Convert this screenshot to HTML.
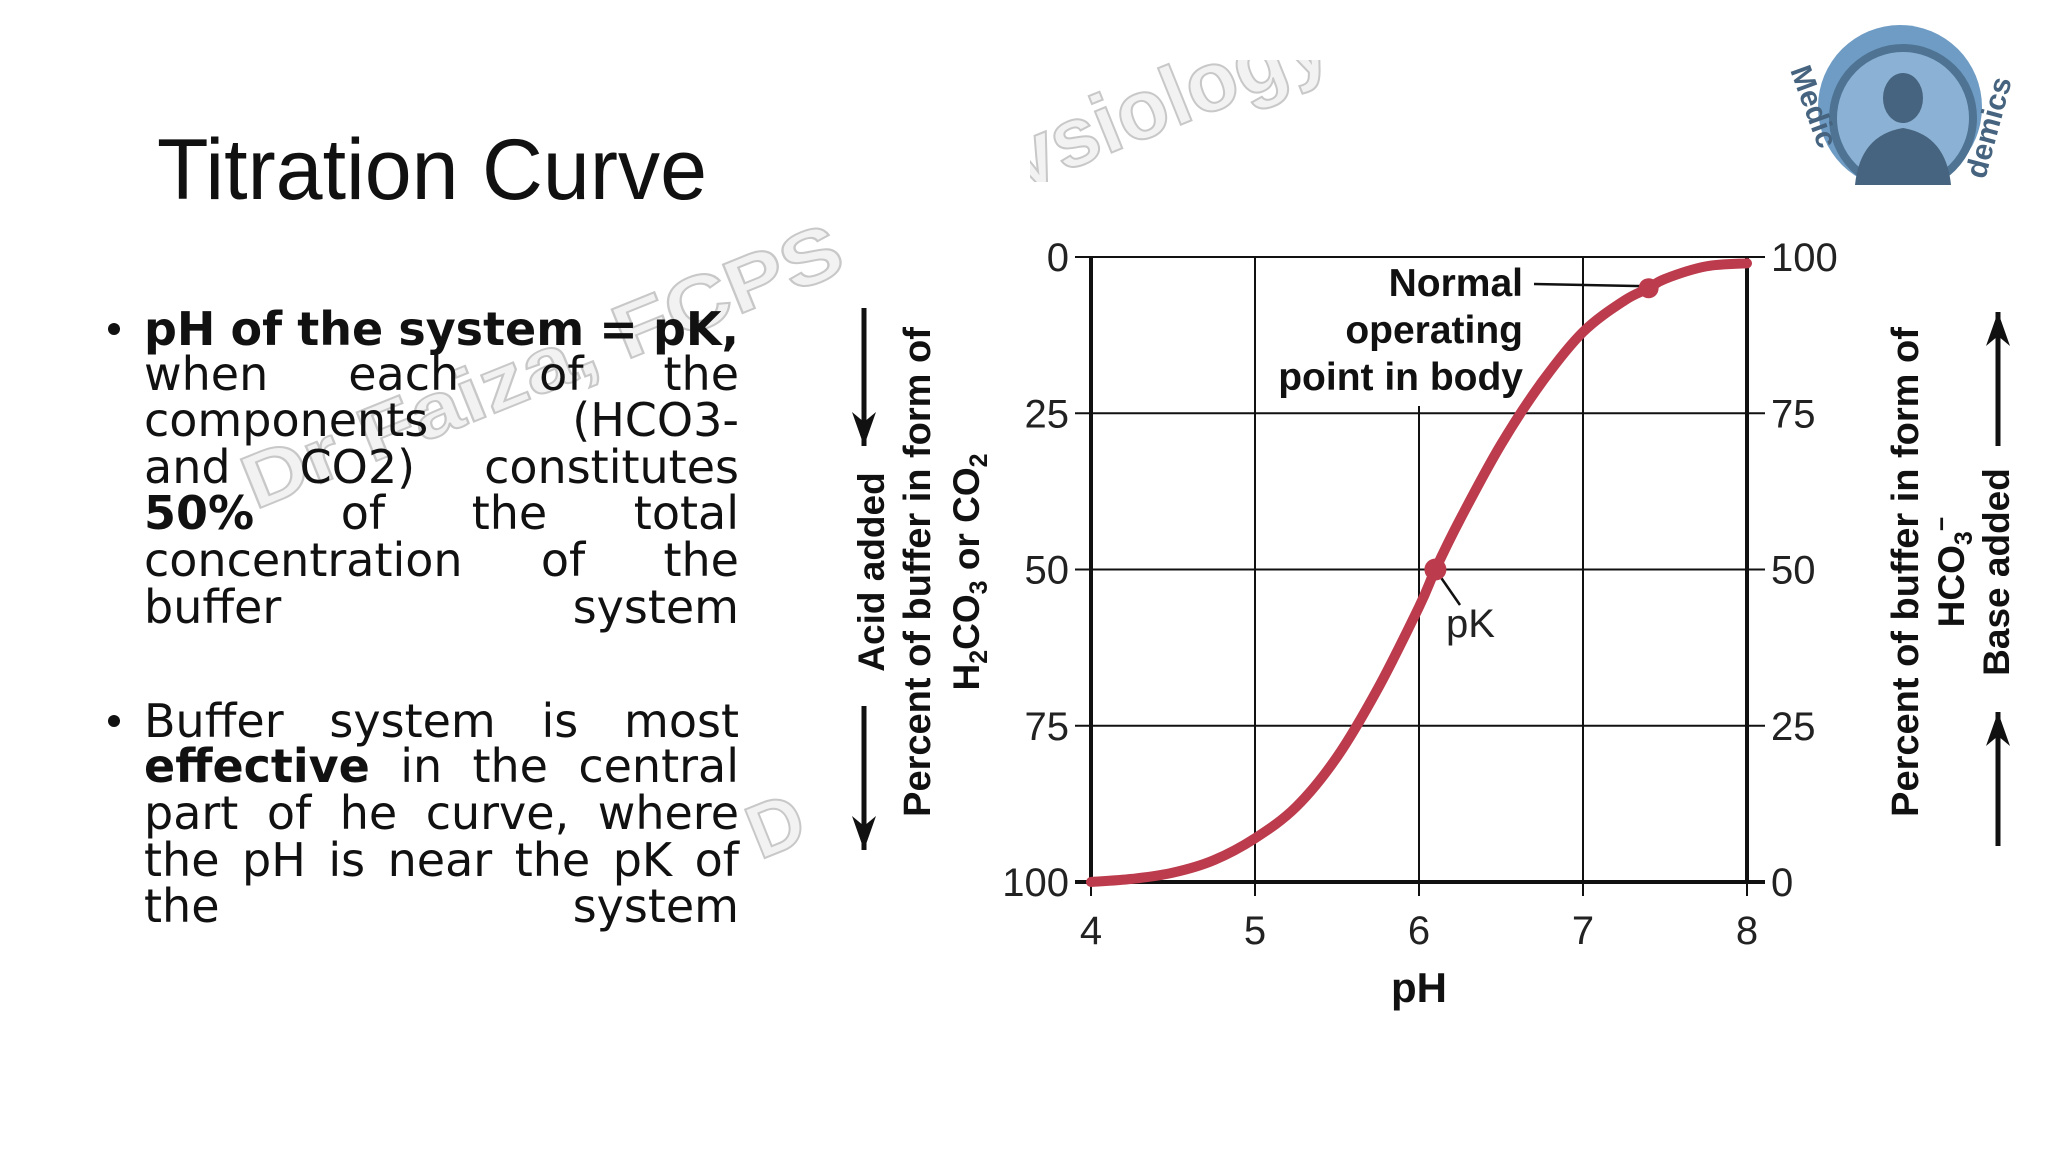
<!DOCTYPE html>
<html><head><meta charset="utf-8"><style>
html,body{margin:0;padding:0;background:#fff;}
svg{display:block;font-family:"Liberation Sans",sans-serif;}
</style></head><body>
<svg id="chart" width="2048" height="1152" viewBox="0 0 2048 1152" xmlns="http://www.w3.org/2000/svg">
<rect width="2048" height="1152" fill="#fff"/>
<g fill="#f2f2f2" stroke="#c8c8c8" stroke-width="2" font-weight="bold" font-size="76">
<text transform="translate(255,510) rotate(-22)" textLength="640" lengthAdjust="spacingAndGlyphs">Dr Faiza, FCPS</text>
<text transform="translate(760,860) rotate(-22)">D</text>
<svg x="1030" y="60" width="300" height="122"><text transform="translate(-110,170) rotate(-22)" font-size="84">Physiology</text></svg>
</g>
<text x="157" y="199" font-size="86" fill="#111" textLength="550" lengthAdjust="spacingAndGlyphs">Titration Curve</text>
<g id="body" font-size="46" fill="#111" style="font-family:'DejaVu Sans',sans-serif">
<circle cx="114" cy="329" r="6"/>
<text class="j" x="144" y="345" font-weight="bold">pH of the system = pK,</text>
<text class="j" x="144" y="390">when each of the</text>
<text class="j" x="144" y="436">components (HCO3-</text>
<text class="j" x="144" y="483">and CO2) constitutes</text>
<text class="j" x="144" y="529"><tspan font-weight="bold">50%</tspan> of the total</text>
<text class="j" x="144" y="576">concentration of the</text>
<text class="j" x="144" y="623">buffer system</text>
<circle cx="114" cy="721" r="6"/>
<text class="j" x="144" y="737">Buffer system is most</text>
<text class="j" x="144" y="782"><tspan font-weight="bold">effective</tspan> in the central</text>
<text class="j" x="144" y="829">part of he curve, where</text>
<text class="j" x="144" y="876">the pH is near the pK of</text>
<text class="j" x="144" y="922">the system</text>
</g>
<g>
<clipPath id="lc"><rect x="1780" y="0" width="268" height="185"/></clipPath>
<g clip-path="url(#lc)">
<circle cx="1900" cy="107" r="82" fill="#6f9cc4"/>
<circle cx="1903" cy="118" r="70" fill="#8bb2d4" stroke="#4e7393" stroke-width="8"/>
<ellipse cx="1903" cy="98" rx="20" ry="25" fill="#46647f"/>
<path d="M1855,185 Q1860,135 1903,128 Q1946,135 1951,185Z" fill="#46647f"/>
</g>
<text transform="translate(1790,70) rotate(70)" font-size="30" font-weight="bold" fill="#46647f">Medic</text>
<text transform="translate(1985,180) rotate(-75)" font-size="30" font-weight="bold" fill="#46647f">demics</text>
</g>
<g id="plot"></g>
</svg>
<script>
const phValues=[4,4.25,4.5,4.75,5,5.25,5.5,5.75,6,6.1,6.25,6.5,6.75,7,7.25,7.4,7.5,7.75,8];
const basePercent=[0,0.5,1.5,3.5,7,12,20,31,44,50,58,70,80,88,93,95,96.5,98.5,99];
const xTicks=[4,5,6,7,8];
const leftTicks=[0,25,50,75,100];
const rightTicks=[100,75,50,25,0];
const pkPoint={ph:6.1,base:50};
const normalPoint={ph:7.4,base:95};
const X0=1091,X1=1747,Y0=257,Y1=882;
const xs=ph=>X0+(ph-4)/4*(X1-X0);
const yAcid=a=>Y0+a/100*(Y1-Y0);
const yBase=b=>yAcid(100-b);
const NS="http://www.w3.org/2000/svg";
const g=document.getElementById('plot');
document.querySelectorAll('#body text.j').forEach(t=>{
 const w=t.getComputedTextLength();const n=t.textContent.trim().split(/\s+/).length;
 if(n>1)t.setAttribute('word-spacing',((595-w)/(n-1)).toFixed(2));
});
function mk(tag,attrs,name,txt){const e=document.createElementNS(NS,tag);for(const k in attrs)e.setAttribute(k,attrs[k]);


if(txt!==undefined)e.textContent=txt;g.appendChild(e);return e;}
leftTicks.forEach((t,i)=>{const y=yAcid(t);
 mk('line',{x1:X0-16,x2:X1+18,y1:y,y2:y,stroke:'#111','stroke-width':(t===100?4:2)},'h-gridline');
 mk('text',{x:X0-22,y:y+14,'text-anchor':'end','font-size':40,fill:'#222'},'left-tick-label',String(t));
 mk('text',{x:X1+24,y:y+14,'font-size':40,fill:'#222'},'right-tick-label',String(rightTicks[i]));
});
xTicks.forEach(t=>{const x=xs(t);
 const top=(t===6)?406:Y0;
 if(t!==4&&t!==8) mk('line',{x1:x,x2:x,y1:top,y2:Y1,stroke:'#111','stroke-width':2},'v-gridline');
 mk('line',{x1:x,x2:x,y1:Y1,y2:Y1+14,stroke:'#111','stroke-width':2},'x-tick');
 mk('text',{x:x,y:944,'text-anchor':'middle','font-size':40,fill:'#222'},'x-tick-label',String(t));
});
mk('line',{x1:X0,x2:X0,y1:Y0,y2:Y1,stroke:'#111','stroke-width':4},'left-axis');
mk('line',{x1:X1,x2:X1,y1:Y0,y2:Y1,stroke:'#111','stroke-width':4},'right-axis');
mk('text',{x:xs(6),y:1002,'text-anchor':'middle','font-size':42,'font-weight':'bold',fill:'#111'},'x-axis-title','pH');
const P=phValues.map((p,i)=>[xs(p),yBase(basePercent[i])]);
let d='M'+P[0][0]+','+P[0][1];
for(let i=0;i<P.length-1;i++){const p0=P[Math.max(0,i-1)],p1=P[i],p2=P[i+1],p3=P[Math.min(P.length-1,i+2)];
 const c1=[p1[0]+(p2[0]-p0[0])/6,p1[1]+(p2[1]-p0[1])/6],c2=[p2[0]-(p3[0]-p1[0])/6,p2[1]-(p3[1]-p1[1])/6];
 d+=`C${c1[0].toFixed(1)},${c1[1].toFixed(1)} ${c2[0].toFixed(1)},${c2[1].toFixed(1)} ${p2[0].toFixed(1)},${p2[1].toFixed(1)}`;}
mk('path',{d:d,fill:'none',stroke:'#bc3b4c','stroke-width':10,'stroke-linejoin':'round','stroke-linecap':'round'},'titration-curve');
mk('line',{x1:1534,y1:284,x2:xs(normalPoint.ph),y2:yBase(normalPoint.base)-2,stroke:'#111','stroke-width':2.5},'normal-leader-line');
mk('circle',{cx:xs(normalPoint.ph),cy:yBase(normalPoint.base),r:10,fill:'#bc3b4c'},'normal-operating-point');
mk('line',{x1:xs(pkPoint.ph),y1:yBase(pkPoint.base),x2:1460,y2:605,stroke:'#111','stroke-width':2.5},'pk-leader-line');
mk('circle',{cx:xs(pkPoint.ph),cy:yBase(pkPoint.base),r:11,fill:'#bc3b4c'},'pk-point');
mk('text',{x:1446,y:637,'font-size':40,fill:'#222'},'pk-label','pK');
[['Normal',296],['operating',343],['point in body',390]].forEach(a=>mk('text',{x:1523,y:a[1],'text-anchor':'end','font-size':39,'font-weight':'bold',fill:'#111'},'normal-operating-label',a[0]));
function vtext(x,y,txt,name,rot,size){const t=mk('text',{transform:`translate(${x},${y}) rotate(${rot})`,'text-anchor':'middle','font-size':size||37,'font-weight':'bold',fill:'#111'},name);t.innerHTML=txt;return t;}
vtext(884,572,'Acid added','left-axis-title-acid',-90);
vtext(930,572,'Percent of buffer in form of','left-axis-title',-90,38);
vtext(979,572,'H<tspan font-size="25" dy="8">2</tspan><tspan dy="-8">CO</tspan><tspan font-size="25" dy="8">3</tspan><tspan dy="-8"> or CO</tspan><tspan font-size="25" dy="8">2</tspan>','left-axis-title-2',-90);
vtext(1918,572,'Percent of buffer in form of','right-axis-title',-90,38);
vtext(1964,572,'HCO<tspan font-size="25" dy="8">3</tspan><tspan font-size="25" dy="-22">−</tspan>','right-axis-title-2',-90);
vtext(2009,572,'Base added','right-axis-title-base',-90);
function arrow(x,y1,y2,name){mk('line',{x1:x,x2:x,y1:y1,y2:y2,stroke:'#111','stroke-width':5},name);
 const dir=y2>y1?1:-1;mk('path',{d:`M${x-12},${y2-dir*34}L${x},${y2}L${x+12},${y2-dir*34}L${x},${y2-dir*24}Z`,fill:'#111'},name+'-head');}
arrow(864,308,446,'acid-arrow-top');arrow(864,706,850,'acid-arrow-bottom');
arrow(1998,446,312,'base-arrow-top');arrow(1998,846,712,'base-arrow-bottom');
</script>
</body></html>
